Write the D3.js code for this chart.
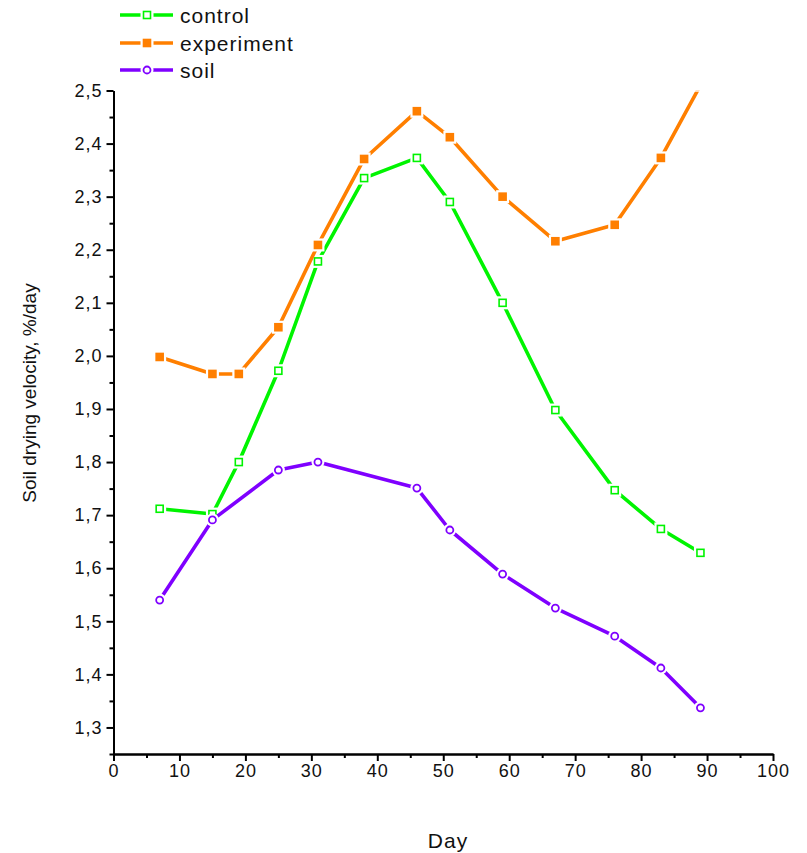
<html>
<head>
<meta charset="utf-8">
<title>Soil drying velocity</title>
<script src="https://cdn.jsdelivr.net/npm/d3@7"></script>
<style>
  body { margin: 0; background: #fff; }
  text { font-family: "Liberation Sans", Arial, sans-serif; }
</style>
</head>
<body>
<script>
// data
var days = [7, 15, 19, 25, 31, 38, 46, 51, 59, 67, 76, 83, 89];
var control = [1.712, 1.702, 1.800, 1.972, 2.178, 2.335, 2.373, 2.290, 2.100, 1.898, 1.747, 1.674, 1.629];
var experiment = [1.998, 1.966, 1.966, 2.054, 2.209, 2.371, 2.461, 2.412, 2.300, 2.216, 2.247, 2.373, 2.51];
var soilDays = [7, 15, 25, 31, 46, 51, 59, 67, 76, 83, 89];
var soil = [1.540, 1.691, 1.785, 1.800, 1.751, 1.672, 1.589, 1.525, 1.472, 1.412, 1.337];
var xTicks = [0, 10, 20, 30, 40, 50, 60, 70, 80, 90, 100];
var yTicks = [1.3, 1.4, 1.5, 1.6, 1.7, 1.8, 1.9, 2.0, 2.1, 2.2, 2.3, 2.4, 2.5];

var series = [
  {name: "control", x: days, y: control, color: "#00f400", marker: "square", filled: false},
  {name: "experiment", x: days, y: experiment, color: "#ff7f00", marker: "square", filled: true},
  {name: "soil", x: soilDays, y: soil, color: "#7f00ff", marker: "circle", filled: false}
];

var width = 807, height = 853;
var plotLeft = 113.5, plotRight = 773, plotTop = 90.5, plotBottom = 754;

var svg = d3.select("body").append("svg")
  .attr("width", width).attr("height", height);

var x = d3.scaleLinear().domain([0, 100]).range([plotLeft, plotRight]);
var y = d3.scaleLinear().domain([1.25, 2.5]).range([plotBottom, plotTop]);

svg.append("clipPath").attr("id", "plot")
  .append("rect").attr("x", plotLeft).attr("y", plotTop)
  .attr("width", plotRight - plotLeft).attr("height", plotBottom - plotTop);

// axes
var fmt = function(d){ return d3.format(".1f")(d).replace(".", ","); };
var xAxis = svg.append("g").attr("transform", "translate(0," + plotBottom + ")")
  .call(d3.axisBottom(x).tickValues(xTicks).tickSize(7).tickSizeOuter(0).tickPadding(3));
var xMinor = svg.append("g").attr("transform", "translate(0," + plotBottom + ")")
  .call(d3.axisBottom(x).tickValues(d3.range(5, 100, 10)).tickSize(4).tickFormat("").tickSizeOuter(0));
var yAxis = svg.append("g").attr("transform", "translate(" + plotLeft + ",0)")
  .call(d3.axisLeft(y).tickValues(yTicks).tickFormat(fmt).tickSize(7).tickSizeOuter(0).tickPadding(4));
var yMinor = svg.append("g").attr("transform", "translate(" + plotLeft + ",0)")
  .call(d3.axisLeft(y).tickValues([1.25, 1.35, 1.45, 1.55, 1.65, 1.75, 1.85, 1.95, 2.05, 2.15, 2.25, 2.35, 2.45]).tickSize(4).tickFormat("").tickSizeOuter(0));

[xAxis, xMinor, yAxis, yMinor].forEach(function(g){
  g.selectAll("path, line").attr("stroke", "#000").attr("stroke-width", 2);
  g.selectAll("text").attr("fill", "#111").style("font-size", "18px")
    .style("letter-spacing", "1px")
    .style("font-family", "Liberation Sans, Arial, sans-serif");
});

svg.append("text").attr("x", 448).attr("y", 848).attr("text-anchor", "middle")
  .style("font-size", "21px").style("letter-spacing", "1px").attr("fill", "#111").text("Day");
svg.append("text").attr("transform", "translate(36,393) rotate(-90)")
  .attr("text-anchor", "middle").style("font-size", "19px").attr("fill", "#111")
  .text("Soil drying velocity, %/day");

// lines and markers
var line = d3.line().x(function(d){ return x(d[0]); }).y(function(d){ return y(d[1]); });
var plot = svg.append("g").attr("clip-path", "url(#plot)");

function drawMarker(g, s, cx, cy, halo) {
  if (s.marker === "square") {
    var r = halo ? 6.5 : 3.5;
    g.append("rect").attr("x", cx - r).attr("y", cy - r).attr("width", 2 * r).attr("height", 2 * r)
      .attr("fill", halo ? "#fff" : (s.filled ? s.color : "#fff"))
      .attr("stroke", halo ? "none" : s.color).attr("stroke-width", 1.6);
  } else {
    g.append("circle").attr("cx", cx).attr("cy", cy).attr("r", halo ? 6.5 : 3.5)
      .attr("fill", "#fff")
      .attr("stroke", halo ? "none" : s.color).attr("stroke-width", 1.8);
  }
}

series.forEach(function(s){
  var pts = s.x.map(function(d, i){ return [d, s.y[i]]; });
  var g = plot.append("g");
  g.append("path").datum(pts).attr("d", line)
    .attr("fill", "none").attr("stroke", s.color).attr("stroke-width", 3.6)
    .attr("stroke-linejoin", "round");
  pts.forEach(function(p){ drawMarker(g, s, x(p[0]), y(p[1]), true); });
  pts.forEach(function(p){ drawMarker(g, s, x(p[0]), y(p[1]), false); });
});

// legend
var legendY = [15, 43, 70];
series.forEach(function(s, i){
  var g = svg.append("g");
  g.append("line").attr("x1", 120).attr("x2", 173).attr("y1", legendY[i]).attr("y2", legendY[i])
    .attr("stroke", s.color).attr("stroke-width", 3.6);
  drawMarker(g, s, 147, legendY[i], true);
  drawMarker(g, s, 147, legendY[i], false);
  g.append("text").attr("x", 180).attr("y", legendY[i] + 7.5)
    .style("font-size", "21px").style("letter-spacing", "1px").attr("fill", "#111").text(s.name);
});
</script>
</body>
</html>
